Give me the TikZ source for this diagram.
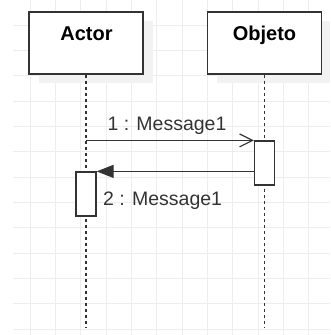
\documentclass[tikz,border=0pt]{standalone}
\usepackage{fontspec}
\setmainfont{Liberation Sans}
\usetikzlibrary{arrows.meta}
\definecolor{gridgray}{HTML}{EDEDED}
\definecolor{ink}{HTML}{333333}
\definecolor{shadowgray}{HTML}{F2F2F2}
\begin{document}
\begin{tikzpicture}[x=1pt,y=-1pt,
  objbox/.style={draw=ink,line width=1.2pt,fill=white,minimum width=114pt,minimum height=62pt,inner sep=0pt},
  actbox/.style={draw=ink,line width=1.2pt,fill=white,minimum width=20pt,minimum height=44pt,inner sep=0pt},
  lifeline/.style={draw=ink,line width=1.2pt,dash pattern=on 3.5pt off 2.5pt},
  msg/.style={draw=ink,line width=1.2pt},
  lbl/.style={font=\fontsize{19.5}{22}\selectfont,text=ink,inner sep=0pt},
  title/.style={font=\bfseries\fontsize{20}{24}\selectfont,inner sep=0pt},
  gridline/.style={draw=gridgray,line width=0.9pt}]
\useasboundingbox (0,0) rectangle (330,335);

% background grid
\foreach \k in {0,...,11}
  \draw[gridline] ({30+25.35*\k},0) -- ({30+25.35*\k},335);
\foreach \j in {0,...,12}
  \draw[gridline] (13,{25+25.33*\j}) -- (330,{25+25.33*\j});

% soft shadows behind the object heads
\fill[shadowgray] (39,21) rectangle (153,83);
\fill[shadowgray] (217,21) rectangle (330,83);

% object heads
\node[objbox] (actor) at (86,43) {};
\node[objbox] (objeto) at (264.5,43) {};
\node[title,anchor=base] (actorT) at (86.5,40) {Actor};
\node[title,anchor=base] (objetoT) at (264.5,40) {Objeto};

% lifelines
\coordinate (actorEnd) at (86,328);
\coordinate (objetoEnd) at (264.5,328);
\draw[lifeline] (actor.south) -- (actorEnd);
\draw[lifeline] (objeto.south) -- (objetoEnd);

% activation bars
\node[actbox] (objAct) at (264.5,163) {};
\node[actbox] (actAct) at (86,194) {};

% messages
\coordinate (m1start) at (actor.south |- objAct.north);
\draw[msg,-{Straight Barb[length=13pt,width=13pt]}] (m1start) -- (objAct.north west);
\draw[msg,-{Triangle[length=17pt,width=13pt]}] (objAct.west |- actAct.north) -- (actAct.north east);

% message labels
\node[lbl,anchor=base] (m1lbl) at (167,130) {1 : Message1};
\node[lbl,anchor=base west] (m2lbl) at (103,205.5) {2 : Message1};
\end{tikzpicture}
\end{document}
